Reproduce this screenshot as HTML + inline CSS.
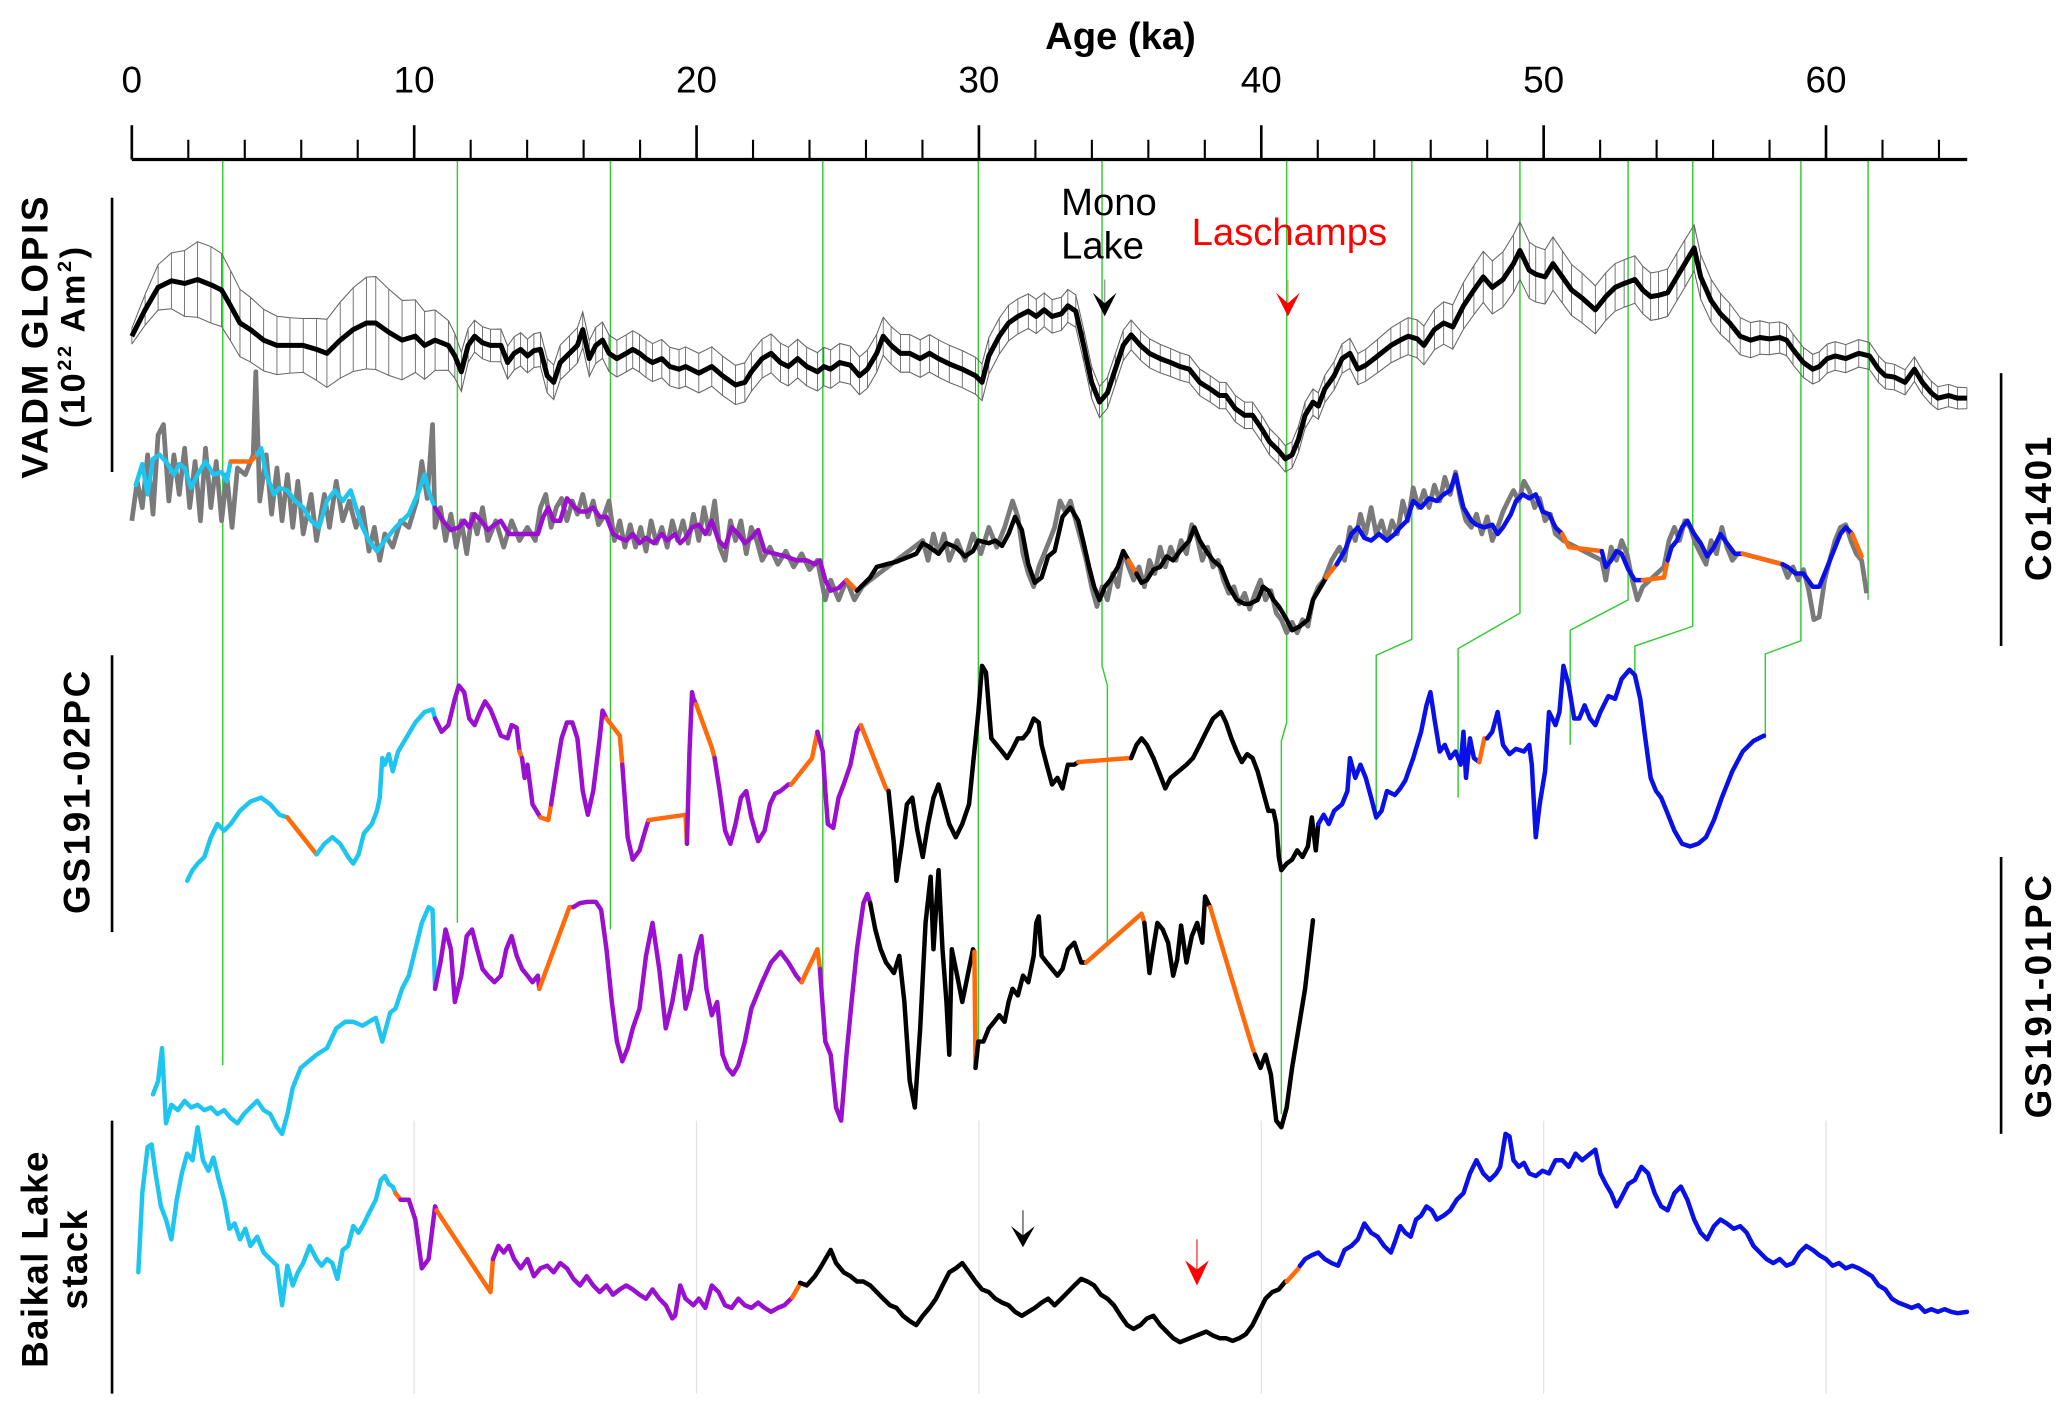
<!DOCTYPE html>
<html><head><meta charset="utf-8"><title>Paleomagnetic records</title>
<style>
html,body{margin:0;padding:0;background:#fff;}
svg{display:block;}
text{font-family:"Liberation Sans",Arial,sans-serif;}
</style></head>
<body>
<svg id="chart" width="2067" height="1416" viewBox="0 0 1568 1074" preserveAspectRatio="none" xmlns="http://www.w3.org/2000/svg">
<g id="grid"></g>
<g id="ties"></g>
<g id="axis"></g>
<text x="850" y="37" font-size="29" font-weight="bold" text-anchor="middle">Age (ka)</text>
<g id="series"></g>
<line x1="85" y1="150" x2="85" y2="358" stroke="#000" stroke-width="2"/>
<line x1="85" y1="497" x2="85" y2="707" stroke="#000" stroke-width="2"/>
<line x1="85" y1="850" x2="85" y2="1057" stroke="#000" stroke-width="2"/>
<line x1="1518" y1="283" x2="1518" y2="490" stroke="#000" stroke-width="2"/>
<line x1="1518" y1="650" x2="1518" y2="860" stroke="#000" stroke-width="2"/>
<text transform="translate(36,255) rotate(-90)" font-size="28" font-weight="bold" letter-spacing="2" text-anchor="middle">VADM GLOPIS</text>
<text transform="translate(64,255) rotate(-90)" font-size="26" font-weight="bold" letter-spacing="2" text-anchor="middle">(10<tspan font-size="15" dy="-10">22</tspan><tspan dy="10"> Am</tspan><tspan font-size="15" dy="-10">2</tspan><tspan dy="10">)</tspan></text>
<text transform="translate(68,600) rotate(-90)" font-size="28" font-weight="bold" letter-spacing="2" text-anchor="middle">GS191-02PC</text>
<text transform="translate(36,955) rotate(-90)" font-size="28" font-weight="bold" letter-spacing="1" text-anchor="middle">Baikal Lake</text>
<text transform="translate(66,955) rotate(-90)" font-size="28" font-weight="bold" letter-spacing="1" text-anchor="middle">stack</text>
<text transform="translate(1556,385) rotate(-90)" font-size="28" font-weight="bold" letter-spacing="2" text-anchor="middle">Co1401</text>
<text transform="translate(1556,755) rotate(-90)" font-size="28" font-weight="bold" letter-spacing="2" text-anchor="middle">GS191-01PC</text>
<text x="805" y="163" font-size="29">Mono</text>
<text x="805" y="196" font-size="29">Lake</text>
<text x="904" y="186" font-size="29" fill="#f00">Laschamps</text>
<g><line x1="838" y1="212" x2="838" y2="236" stroke="#999" stroke-width="1"/><path d="M829,222 L838,240 L847,222 L838,230 Z" fill="#000"/></g>
<g><line x1="977" y1="212" x2="977" y2="236" stroke="#f99" stroke-width="1"/><path d="M968,222 L977,240 L986,222 L977,230 Z" fill="#f00"/></g>
<g><line x1="776" y1="918" x2="776" y2="940" stroke="#555" stroke-width="1"/><path d="M767,930 L776,946 L785,930 L776,937 Z" fill="#000"/></g>
<g><line x1="908" y1="940" x2="908" y2="966" stroke="#f33" stroke-width="1"/><path d="M899,956 L908,975 L917,956 L908,963 Z" fill="#f00"/></g>
</svg>
<script>
// ---------- axis / scale ----------
const X0 = 100, PX_PER_KA = 21.42;
function xs(age){ return X0 + age*PX_PER_KA; }
const majorTicks = [0,10,20,30,40,50,60];
const minorTicks = [2,4,6,8,12,14,16,18,22,24,26,28,32,34,36,38,42,44,46,48,52,54,56,58,62,64];
const tickLabels = ['0','10','20','30','40','50','60'];
const NS = 'http://www.w3.org/2000/svg';
function mk(tag, attrs, parent){ const e=document.createElementNS(NS,tag); for(const k in attrs) e.setAttribute(k,attrs[k]); parent.appendChild(e); return e; }

// ---------- VADM GLOPIS ----------
const vadmAge=[0,0.47,0.93,1.40,1.87,2.33,2.80,3.18,3.50,3.83,4.20,4.67,5.14,5.60,6.07,6.54,6.91,7.38,7.84,8.31,8.64,9.10,9.57,10.04,10.37,10.74,11.21,11.44,11.67,11.91,12.14,12.42,12.70,13.07,13.31,13.54,13.77,14.01,14.24,14.47,14.71,14.94,15.17,15.50,15.78,15.97,16.20,16.43,16.67,16.90,17.18,17.51,17.74,17.98,18.21,18.44,18.77,19.05,19.38,19.61,20.08,20.54,20.92,21.38,21.71,21.94,22.32,22.64,22.97,23.25,23.58,23.90,24.28,24.51,24.75,25.07,25.45,25.77,26.05,26.38,26.61,26.89,27.22,27.55,27.92,28.25,28.57,28.95,29.41,29.88,30.11,30.35,30.72,31.05,31.38,31.75,32.03,32.31,32.59,32.92,33.15,33.43,33.71,33.99,34.27,34.55,34.83,35.11,35.39,35.72,36.04,36.42,36.79,37.12,37.45,37.82,38.19,38.52,38.75,39.08,39.41,39.69,40.01,40.29,40.62,40.85,41.09,41.32,41.55,41.83,42.02,42.25,42.58,42.86,43.14,43.42,43.70,44.12,44.59,44.92,45.20,45.52,45.76,46.13,46.46,46.78,47.16,47.53,47.86,48.18,48.56,48.93,49.16,49.49,49.72,50.05,50.33,50.66,50.99,51.36,51.83,52.20,52.53,52.85,53.23,53.51,53.79,54.07,54.39,54.72,55.00,55.33,55.56,55.93,56.26,56.59,56.96,57.33,57.66,57.99,58.36,58.60,58.83,59.20,59.53,59.76,60.04,60.32,60.70,61.16,61.54,61.86,62.10,62.42,62.80,63.13,63.41,63.73,63.96,64.34,64.66,64.99];
const vadmVal=[105,125,142,147,145,148,144,140,128,115,110,102,98,98,98,95,92,102,110,115,115,108,102,105,98,102,98,90,78,98,105,100,98,98,85,92,95,90,94,95,75,70,85,92,98,110,88,98,102,92,88,92,95,92,88,85,88,82,80,82,77,82,75,68,70,78,88,92,85,82,88,82,78,82,80,85,83,75,80,92,105,98,92,92,88,92,88,84,80,75,70,90,105,115,120,124,120,125,120,122,128,124,98,70,55,62,80,98,106,98,92,88,85,82,80,70,65,60,60,50,45,45,35,25,18,12,15,27,45,55,52,65,75,88,92,80,83,90,98,102,105,103,98,110,115,112,128,140,150,142,148,160,170,155,152,150,160,150,140,134,125,135,142,145,148,140,135,136,138,150,160,172,150,132,122,115,105,102,104,103,104,102,95,85,80,82,88,90,88,92,90,80,75,74,70,80,70,62,58,60,58,58];
const vadmErrAge=[0,1,2.5,4,6,8.5,10.5,12,20,30,34,38,42,46,49,52,55,58,62,65];
const vadmErrVal=[6,18,30,25,20,36,25,12,15,14,12,10,10,15,22,18,18,12,10,8];
const VADM_BASE=360;

// ---------- Co1401 ----------
const coAge=[0.14,0.37,0.56,0.75,0.98,1.21,1.49,1.68,1.87,2.10,2.33,2.61,2.89,3.18,3.36,3.50,4.20,4.44,4.58,4.76,5.04,5.23,5.51,5.79,6.07,6.35,6.63,6.91,7.19,7.47,7.75,7.94,8.17,8.40,8.68,8.96,9.34,9.81,10.18,10.37,10.55,10.74,11.02,11.30,11.58,11.77,11.95,12.14,12.37,12.61,12.84,13.07,13.35,13.63,14.01,14.38,14.57,14.75,14.94,15.17,15.41,15.69,15.87,16.11,16.34,16.57,16.81,17.04,17.28,17.51,17.74,17.98,18.21,18.49,18.77,18.96,19.24,19.42,19.61,19.84,20.08,20.31,20.54,20.78,21.01,21.24,21.48,21.71,21.94,22.18,22.41,22.78,23.16,23.53,23.90,24.19,24.37,24.56,24.75,25.03,25.31,25.68,26.15,26.38,27.08,27.78,28.01,28.25,28.57,28.85,29.18,29.51,29.79,29.98,30.35,30.58,30.82,31.05,31.28,31.52,31.75,31.98,32.22,32.45,32.68,32.96,33.24,33.52,33.71,33.90,34.08,34.27,34.46,34.65,34.92,35.11,35.30,35.58,35.76,35.95,36.18,36.42,36.65,36.88,37.12,37.45,37.63,37.82,38.05,38.29,38.57,38.85,39.13,39.41,39.59,39.87,40.06,40.25,40.43,40.62,40.85,41.09,41.37,41.65,41.83,42.11,42.30,42.67,42.95,43.19,43.42,43.65,43.89,44.17,44.45,44.73,44.92,45.15,45.38,45.66,45.94,46.22,46.46,46.69,46.88,47.16,47.44,47.62,47.90,48.18,48.37,48.56,48.84,49.02,49.26,49.49,49.72,49.96,50.19,50.42,50.66,50.89,52.06,52.20,52.39,52.58,52.76,53.00,53.23,53.51,54.26,54.39,54.53,54.72,54.90,55.09,55.33,55.56,55.79,56.03,56.26,56.49,56.77,57.05,58.46,58.64,58.92,59.20,59.53,59.76,59.95,60.23,60.51,60.70,60.93,61.26];
const coVal=[132,148,125,152,155,150,140,148,145,130,140,150,140,142,135,150,150,155,160,140,125,130,128,120,115,105,100,120,128,120,128,115,100,90,82,90,100,110,128,140,125,115,105,98,100,105,100,110,105,98,102,105,95,95,95,95,108,115,105,105,122,115,112,112,115,108,108,95,92,90,95,88,92,88,95,90,95,88,92,100,102,95,105,90,85,100,95,88,92,98,82,80,78,75,75,72,75,60,52,54,60,52,62,70,74,80,88,85,80,88,85,78,82,90,88,90,86,95,108,98,72,58,62,78,82,108,115,105,88,70,55,45,55,60,70,82,75,65,58,60,68,70,78,75,82,90,100,90,82,75,70,55,45,42,42,45,55,52,45,40,32,22,25,30,45,55,62,72,82,95,100,92,90,95,90,95,100,105,120,115,122,120,125,128,140,115,105,102,100,102,95,100,110,120,125,122,125,112,110,100,95,85,82,70,75,82,80,68,60,60,62,75,85,90,100,105,95,88,78,85,95,88,80,80,72,70,65,65,55,55,65,80,95,100,95,78];
const coBreakAge=[0,3.45,4.30,10.70,25.30,25.60,35.28,35.50,42.28,42.60,50.64,52.00,53.50,54.35,57.04,58.40,60.92];
const coBreakColor=['cyan','orange','cyan','purple','orange','black','orange','black','orange','blue','orange','blue','orange','blue','orange','blue','orange'];
const coRawAge=[0,0.19,0.37,0.56,0.75,0.93,1.12,1.31,1.49,1.68,1.87,2.05,2.24,2.43,2.61,2.80,2.99,3.18,3.36,3.55,3.74,4.02,4.30,4.39,4.53,4.76,4.95,5.14,5.32,5.51,5.70,5.88,6.07,6.35,6.54,6.82,7.00,7.24,7.47,7.70,7.94,8.17,8.40,8.59,8.78,8.96,9.24,9.52,9.81,10.09,10.27,10.46,10.65,10.74,10.93,11.11,11.30,11.49,11.67,11.86,12.05,12.23,12.42,12.61,12.89,13.17,13.45,13.73,14.01,14.29,14.47,14.66,14.85,15.03,15.22,15.41,15.60,15.78,15.97,16.15,16.34,16.53,16.71,16.90,17.09,17.28,17.46,17.65,17.84,18.02,18.21,18.39,18.58,18.77,18.96,19.14,19.33,19.52,19.70,19.89,20.08,20.26,20.45,20.64,20.82,21.01,21.20,21.38,21.57,21.76,21.94,22.13,22.32,22.60,22.88,23.16,23.44,23.72,24.00,24.28,24.56,24.75,25.03,25.31,25.59,25.87,26.15,28.01,28.20,28.39,28.57,28.76,28.95,29.23,29.51,29.79,30.07,30.35,30.63,30.91,31.19,31.38,31.56,31.75,31.94,32.12,32.31,32.50,32.68,32.87,33.06,33.24,33.43,33.62,33.80,33.99,34.18,34.36,34.55,34.74,34.92,35.11,35.30,35.48,35.67,35.86,36.04,36.23,36.42,36.60,36.79,36.98,37.16,37.35,37.54,37.73,37.91,38.10,38.29,38.47,38.66,38.85,39.03,39.22,39.41,39.59,39.78,39.97,40.15,40.34,40.53,40.71,40.90,41.09,41.27,41.46,41.65,41.83,42.02,42.21,42.49,42.77,42.95,43.14,43.33,43.51,43.70,43.89,44.07,44.26,44.45,44.63,44.82,45.01,45.19,45.38,45.57,45.76,45.94,46.13,46.32,46.50,46.69,46.88,47.06,47.25,47.44,47.62,47.81,48.00,48.18,48.37,48.56,48.74,48.93,49.12,49.30,49.49,49.68,49.86,50.05,50.24,50.42,50.70,52.06,52.20,52.39,52.58,52.76,52.95,53.14,53.32,53.51,54.26,54.44,54.63,54.81,55.00,55.19,55.37,55.56,55.75,55.93,56.12,56.31,56.49,56.68,56.87,57.05,58.46,58.64,58.83,59.02,59.20,59.39,59.57,59.76,59.95,60.13,60.32,60.51,60.70,60.88,61.07,61.26,61.44];
const coRawVal=[105,135,115,155,110,170,178,120,155,125,160,115,150,105,160,115,150,105,140,100,145,140,155,218,120,155,110,145,105,140,100,135,95,125,90,125,100,135,105,120,100,115,82,100,75,95,85,105,100,120,150,122,178,100,115,90,110,85,105,80,110,95,115,90,105,85,105,90,100,90,115,125,100,115,122,105,120,110,125,108,120,102,108,120,90,105,85,102,85,100,82,105,88,100,85,105,90,105,88,110,90,115,95,120,85,75,105,90,105,80,100,90,75,85,72,82,70,80,68,75,45,60,45,60,45,55,60,90,75,95,80,95,75,90,75,95,80,100,85,100,120,108,80,65,55,70,80,90,100,120,112,120,105,90,75,55,40,55,45,65,55,82,70,60,70,55,75,65,85,70,85,75,90,80,102,92,75,85,70,75,60,50,55,42,50,38,50,60,45,52,35,30,20,28,20,30,25,45,55,60,75,85,75,100,90,110,95,115,95,105,90,105,95,120,105,130,115,128,115,132,120,138,125,142,120,105,100,110,95,108,90,100,112,120,128,120,135,128,115,122,105,110,95,90,75,60,85,75,90,80,60,45,55,70,90,100,90,105,100,88,80,72,90,80,100,85,75,80,80,72,62,70,60,68,52,30,32,60,75,90,100,102,90,80,75,50];
const CO_BASE=500;

// ---------- GS191-02PC ----------
const gs02Age=[1.96,2.15,2.33,2.57,2.80,3.03,3.27,3.50,3.83,4.20,4.58,4.90,5.23,5.51,6.54,6.82,7.10,7.38,7.66,7.84,8.03,8.22,8.50,8.68,8.78,8.87,8.96,9.10,9.24,9.43,9.71,10.04,10.37,10.65,10.74,10.97,11.21,11.44,11.58,11.77,11.95,12.14,12.33,12.51,12.70,12.89,13.07,13.31,13.45,13.63,13.73,13.82,13.91,14.01,14.19,14.47,14.75,14.85,15.03,15.22,15.41,15.60,15.78,15.97,16.15,16.34,16.57,16.67,16.81,17.28,17.37,17.56,17.74,17.98,18.21,18.30,19.61,19.66,19.75,19.84,19.89,19.98,20.54,20.64,20.82,21.01,21.20,21.38,21.57,21.76,21.94,22.18,22.41,22.60,22.78,22.97,23.25,23.35,24.09,24.28,24.47,24.56,24.65,24.84,25.03,25.21,25.45,25.68,25.82,26.71,26.80,26.99,27.08,27.27,27.45,27.64,27.82,28.01,28.20,28.39,28.57,28.76,28.95,29.18,29.41,29.65,29.79,29.98,30.11,30.25,30.44,30.63,30.82,31.00,31.19,31.38,31.56,31.75,31.94,32.12,32.22,32.40,32.59,32.78,32.96,33.15,33.38,33.52,35.30,35.39,35.58,35.76,35.95,36.18,36.42,36.60,36.79,37.07,37.35,37.58,37.82,38.05,38.29,38.57,38.75,38.94,39.13,39.31,39.50,39.69,39.87,40.06,40.25,40.43,40.53,40.62,40.71,40.90,41.09,41.27,41.46,41.65,41.79,41.93,42.02,42.21,42.39,42.58,42.86,43.05,43.14,43.33,43.51,43.70,43.89,44.07,44.26,44.45,44.73,44.92,45.10,45.38,45.66,45.85,45.99,46.13,46.32,46.50,46.69,46.88,47.06,47.16,47.25,47.39,47.53,47.72,47.90,48.00,48.18,48.37,48.56,48.79,49.02,49.30,49.49,49.58,49.72,49.86,50.05,50.19,50.42,50.56,50.70,50.89,51.08,51.26,51.45,51.64,51.83,52.01,52.29,52.53,52.76,53.04,53.23,53.42,53.60,53.79,53.98,54.16,54.35,54.63,54.90,55.19,55.47,55.75,56.03,56.31,56.68,57.05,57.43,57.80];
const gs02Val=[12,20,25,30,45,55,50,55,65,72,75,70,62,60,32,40,45,40,30,25,32,48,55,65,75,105,100,108,95,110,120,132,140,142,135,125,130,150,160,155,135,130,140,148,142,132,122,120,130,128,110,105,90,100,70,60,58,70,95,120,132,132,120,80,62,80,120,141,135,122,100,45,28,35,52,58,62,40,110,155,150,146,113,105,80,50,40,55,75,80,60,42,50,70,78,80,85,85,105,125,110,80,55,52,75,85,100,125,130,82,80,40,12,40,70,75,50,30,55,75,85,70,55,45,55,70,100,140,175,170,120,115,110,105,112,120,120,125,135,132,115,100,85,90,82,100,100,102,105,105,115,120,115,105,92,82,90,95,100,105,115,125,135,140,132,120,110,102,108,105,95,80,65,65,55,30,20,25,28,35,30,38,60,35,55,62,55,65,70,80,105,90,100,90,75,60,65,80,77,82,88,105,125,145,155,135,110,115,105,110,100,125,90,120,105,102,120,120,125,140,115,108,112,110,115,100,45,70,95,140,130,140,175,160,135,135,145,135,130,140,152,150,165,172,168,150,120,90,80,75,65,50,40,38,40,45,58,75,95,110,118,122];
const gs02BreakAge=[0,5.50,6.50,10.70,13.70,13.80,14.45,14.80,16.80,17.30,18.28,19.64,19.95,20.60,23.34,24.20,25.80,26.75,33.50,35.35,41.95,47.70,47.95];
const gs02BreakColor=['cyan','orange','cyan','purple','orange','purple','orange','purple','orange','purple','orange','purple','orange','purple','orange','purple','orange','black','orange','black','blue','orange','blue'];
const GS02_BASE=680;

// ---------- GS191-01PC ----------
const gs01Age=[0.75,0.93,1.07,1.21,1.40,1.63,1.87,2.10,2.33,2.57,2.80,3.03,3.27,3.50,3.74,3.97,4.20,4.44,4.67,4.90,5.14,5.32,5.51,5.70,5.98,6.26,6.54,6.91,7.24,7.56,7.84,8.17,8.40,8.64,8.87,9.06,9.15,9.34,9.57,9.81,10.04,10.27,10.51,10.65,10.74,10.93,11.11,11.30,11.44,11.67,11.86,12.05,12.23,12.42,12.61,12.84,13.07,13.26,13.45,13.63,13.82,14.01,14.19,14.38,14.43,15.50,15.64,15.87,16.15,16.43,16.62,16.81,17.00,17.18,17.37,17.56,17.74,17.98,18.21,18.44,18.68,18.91,19.14,19.42,19.61,19.80,19.98,20.17,20.35,20.54,20.73,20.92,21.10,21.29,21.48,21.71,21.94,22.32,22.64,22.97,23.25,23.53,23.72,24.28,24.37,24.56,24.75,24.94,25.12,25.31,25.49,25.68,25.91,26.05,26.15,26.33,26.52,26.71,26.99,27.18,27.36,27.55,27.73,27.92,28.11,28.29,28.39,28.57,28.71,28.85,28.95,29.04,29.23,29.41,29.60,29.79,29.84,29.88,29.98,30.16,30.35,30.54,30.72,30.91,31.05,31.19,31.38,31.56,31.75,31.94,32.03,32.12,32.22,32.40,32.59,32.78,32.96,33.15,33.38,33.62,33.80,35.76,35.86,36.04,36.13,36.32,36.51,36.70,36.88,37.02,37.16,37.35,37.54,37.73,37.91,38.01,38.19,39.69,39.78,39.97,40.15,40.34,40.53,40.71,40.90,41.09,41.32,41.55,41.83];
const gs01Val=[40,50,75,18,32,28,35,30,32,28,30,25,28,22,18,25,30,35,28,25,15,10,25,45,60,65,70,75,90,95,95,92,95,98,80,95,102,105,120,130,150,170,182,180,120,140,165,150,110,130,160,165,150,135,130,125,130,150,160,145,135,130,125,130,120,182,182,185,186,186,180,150,110,80,65,75,90,105,145,170,135,90,110,145,105,120,145,160,120,100,110,70,60,55,62,80,105,125,140,148,140,130,125,150,135,80,70,30,20,70,110,150,185,192,185,165,150,140,132,145,110,50,30,90,170,205,150,210,150,110,70,150,130,110,130,150,148,60,80,80,90,95,100,95,110,120,115,130,125,145,170,175,145,140,135,130,135,150,155,140,140,177,170,132,145,170,165,155,130,142,168,140,160,170,155,190,182,75,70,60,70,55,20,15,30,60,90,120,172];
const gs01BreakAge=[0,10.70,14.40,15.60,23.70,24.30,26.10,29.82,29.86,33.78,35.80,38.17,39.75];
const gs01BreakColor=['cyan','purple','orange','purple','orange','purple','black','orange','black','orange','black','orange','black'];
const GS01_BASE=870;

// ---------- Baikal Lake stack ----------
const bkAge=[0.23,0.37,0.56,0.70,0.84,1.03,1.21,1.40,1.59,1.77,1.96,2.15,2.33,2.52,2.71,2.89,3.08,3.27,3.46,3.64,3.83,4.02,4.20,4.44,4.67,4.90,5.14,5.32,5.51,5.70,5.88,6.07,6.30,6.54,6.72,6.91,7.10,7.28,7.47,7.66,7.84,8.03,8.22,8.40,8.64,8.82,8.96,9.10,9.24,9.34,9.52,9.81,10.04,10.27,10.51,10.74,10.79,12.70,12.79,12.98,13.17,13.35,13.54,13.77,14.01,14.24,14.47,14.71,14.94,15.17,15.41,15.64,15.87,16.11,16.34,16.57,16.81,17.04,17.28,17.51,17.74,17.98,18.21,18.44,18.68,18.91,19.14,19.24,19.42,19.61,19.89,20.08,20.31,20.54,20.78,21.01,21.24,21.48,21.71,21.94,22.18,22.41,22.64,22.88,23.11,23.35,23.39,23.63,23.67,23.90,24.19,24.37,24.56,24.75,24.94,25.21,25.45,25.68,25.91,26.15,26.38,26.61,26.85,27.08,27.31,27.55,27.78,28.01,28.25,28.48,28.71,28.95,29.18,29.41,29.65,29.88,30.11,30.35,30.58,30.82,31.05,31.28,31.52,31.75,31.98,32.22,32.45,32.68,32.92,33.15,33.38,33.62,33.85,34.08,34.32,34.55,34.78,35.02,35.25,35.48,35.72,35.95,36.18,36.42,36.65,36.88,37.12,37.35,37.58,37.82,38.05,38.29,38.52,38.75,38.98,39.22,39.45,39.69,39.92,40.15,40.39,40.62,40.85,40.90,41.32,41.37,41.55,41.79,42.02,42.25,42.49,42.72,42.95,43.19,43.42,43.65,43.89,44.12,44.35,44.59,44.73,44.92,45.10,45.29,45.48,45.66,45.85,46.04,46.22,46.46,46.69,46.92,47.16,47.39,47.62,47.86,48.09,48.32,48.46,48.65,48.79,48.93,49.12,49.30,49.49,49.72,49.96,50.19,50.42,50.66,50.89,51.13,51.36,51.59,51.83,52.01,52.20,52.39,52.58,52.76,53.00,53.23,53.46,53.70,53.93,54.16,54.39,54.63,54.86,55.09,55.33,55.56,55.79,56.03,56.26,56.49,56.73,56.96,57.19,57.43,57.66,57.89,58.13,58.36,58.60,58.83,59.06,59.30,59.53,59.76,60.00,60.23,60.46,60.70,60.93,61.16,61.40,61.63,61.86,62.10,62.33,62.56,62.80,63.03,63.27,63.50,63.73,63.96,64.20,64.43,64.66,64.99];
const bkVal=[75,135,170,172,150,125,115,100,130,150,165,160,185,160,152,162,145,130,108,112,100,108,95,102,90,85,80,50,80,65,75,82,95,85,80,85,82,70,92,95,110,105,112,120,130,145,148,142,140,135,130,130,115,78,85,125,122,60,85,95,90,95,85,78,85,72,78,80,75,82,78,70,65,72,65,60,65,58,62,65,62,58,55,62,55,50,40,42,65,55,50,55,48,65,60,50,48,55,50,48,52,48,45,48,50,55,56,65,67,65,72,78,85,92,82,75,72,68,68,65,60,55,50,48,42,38,35,42,48,55,65,75,78,82,75,68,62,60,55,52,50,45,42,45,48,52,55,50,55,60,65,70,68,65,58,55,50,42,35,32,35,40,42,35,30,25,22,24,26,28,30,27,25,25,23,25,28,35,45,55,60,62,68,68,78,80,85,88,90,85,82,80,92,95,100,112,105,102,95,90,98,110,105,102,115,118,125,122,115,118,122,130,135,150,160,150,145,150,155,180,178,160,155,158,150,148,152,150,160,160,155,165,160,164,168,150,142,135,125,132,142,145,155,150,135,125,122,135,140,130,115,105,100,110,115,112,108,110,105,95,90,85,82,85,80,82,90,95,92,88,85,80,82,78,80,78,75,72,65,62,55,52,50,48,50,45,47,45,47,45,44,45];
const bkBreakAge=[0,9.30,9.45,10.76,12.75,23.37,23.65,40.87,41.35];
const bkBreakColor=['cyan','orange','purple','orange','purple','orange','black','orange','blue'];
const BK_BASE=1040;

// ---------- tie lines ----------
const tieAgesTop=[3.22,11.53,16.95,24.47,29.98,34.36,40.90,45.33,49.16,52.99,55.28,59.11,61.49];
const tieBendAges=[null,null,null,null,null,34.55,40.71,44.07,46.97,50.94,53.23,57.85,null];
const tieBendY1=[808,700,705,785,800,505,548,485,465,455,475,486,455];
const tieBendY2=[null,null,null,null,null,520,562,497,492,478,490,496,null];
const tieEndY=[null,null,null,null,null,715,845,622,605,565,518,560,null];

const COLORS={cyan:'#1ec6ef',purple:'#9a0fd0',orange:'#ff6a0a',black:'#000000',blue:'#0a10e8'};

// ---------- draw axis ----------
const axis=document.getElementById('axis');
const axLine=mk('line',{x1:xs(0),y1:121,x2:xs(65),y2:121,stroke:'#000','stroke-width':2.5},axis);


majorTicks.forEach((t,i)=>{
  const tk=mk('line',{x1:xs(t),y1:95,x2:xs(t),y2:121,stroke:'#000','stroke-width':2},axis);
  
  
  const lb=mk('text',{x:xs(t),y:70,'font-size':28,'text-anchor':'middle'},axis);
  lb.textContent=tickLabels[i];
  
  
});
minorTicks.forEach(t=>{
  const tk=mk('line',{x1:xs(t),y1:106,x2:xs(t),y2:121,stroke:'#000','stroke-width':1.6},axis);
  
  
});

const grid=document.getElementById('grid');
majorTicks.slice(1).forEach(t=>{
  const g=mk('line',{x1:xs(t),y1:850,x2:xs(t),y2:1057,stroke:'#e4e4e4','stroke-width':1},grid);
  
  
});

const ties=document.getElementById('ties');
tieAgesTop.forEach((a,i)=>{
  let pts=[[xs(a),122],[xs(a),tieBendY1[i]]];
  if(tieBendAges[i]!==null){ pts.push([xs(tieBendAges[i]),tieBendY2[i]]); pts.push([xs(tieBendAges[i]),tieEndY[i]]); }
  const pl=mk('polyline',{points:pts.map(p=>p.join(',')).join(' '),fill:'none',stroke:'#33cc33','stroke-width':1.1},ties);
  
  
});

// ---------- series ----------
const sg=document.getElementById('series');
function interp(ax,ay,a){ if(a<=ax[0]) return ay[0]; for(let i=1;i<ax.length;i++){ if(a<=ax[i]){ const t=(a-ax[i-1])/(ax[i]-ax[i-1]); return ay[i-1]+t*(ay[i]-ay[i-1]); } } return ay[ay.length-1]; }
function colorAt(bAges,bCols,a){ let c=bCols[0]; for(let i=0;i<bAges.length;i++){ if(a>=bAges[i]) c=bCols[i]; } return c; }
function drawColored(name,ages,vals,base,bAges,bCols,w){
  const g=mk('g',{},sg);
  
  
  let cur=null, pts=[];
  const flush=()=>{ if(pts.length>1){ const p=mk('polyline',{points:pts.join(' '),fill:'none',stroke:COLORS[cur],'stroke-width':w,'stroke-linejoin':'round','stroke-linecap':'round'},g);
    
     } };
  for(let i=0;i<ages.length-1;i++){
    const c=colorAt(bAges,bCols,ages[i]);
    if(c!==cur){ flush(); cur=c; pts=[xs(ages[i])+','+(base-vals[i])]; }
    pts.push(xs(ages[i+1])+','+(base-vals[i+1]));
  }
  flush();
}

const vg=mk('g',{},sg);


const up=[],lo=[];
vadmAge.forEach((a,i)=>{ const e=interp(vadmErrAge,vadmErrVal,a); up.push([xs(a),VADM_BASE-(vadmVal[i]+e)]); lo.push([xs(a),VADM_BASE-(vadmVal[i]-e)]); });
let hd='';
up.forEach((p,i)=>{ hd+='M'+p[0]+','+p[1]+'V'+lo[i][1]; });
const hatch=mk('path',{d:hd,stroke:'#555','stroke-width':0.6,fill:'none'},vg);


const upL=mk('polyline',{points:up.map(p=>p.join(',')).join(' '),fill:'none',stroke:'#666','stroke-width':0.8},vg);


const loL=mk('polyline',{points:lo.map(p=>p.join(',')).join(' '),fill:'none',stroke:'#666','stroke-width':0.8},vg);


const vLine=mk('polyline',{points:vadmAge.map((a,i)=>xs(a)+','+(VADM_BASE-vadmVal[i])).join(' '),fill:'none',stroke:'#000','stroke-width':3.8,'stroke-linejoin':'round'},vg);



const raw=mk('polyline',{points:coRawAge.map((a,i)=>xs(a)+','+(CO_BASE-coRawVal[i])).join(' '),fill:'none',stroke:'#7a7a7a','stroke-width':3.6,'stroke-linejoin':'round'},sg);


drawColored('co1401-smoothed',coAge,coVal,CO_BASE,coBreakAge,coBreakColor,3.4);
drawColored('gs02-series',gs02Age,gs02Val,GS02_BASE,gs02BreakAge,gs02BreakColor,3.4);
drawColored('gs01-series',gs01Age,gs01Val,GS01_BASE,gs01BreakAge,gs01BreakColor,3.4);
drawColored('baikal-series',bkAge,bkVal,BK_BASE,bkBreakAge,bkBreakColor,3.4);
</script>
</body></html>
